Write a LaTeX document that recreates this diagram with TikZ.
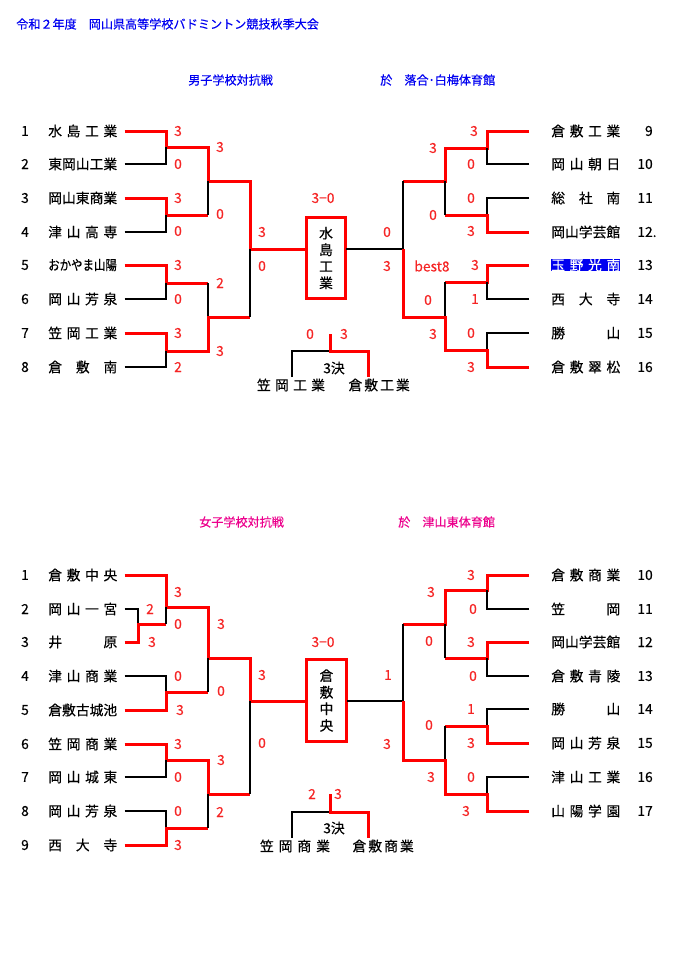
\documentclass[tikz,border=0pt]{standalone}
\usepackage{fontspec}
\setmainfont{Noto Sans CJK JP}[FakeBold=0.35]
\usepackage{graphicx}
\definecolor{headblue}{HTML}{0000F0}
\definecolor{lnred}{HTML}{FF0000}
\definecolor{scred}{HTML}{F52525}
\definecolor{hiblue}{HTML}{0000F0}
\newcommand\tfont{\fontsize{9.8}{11.8}\selectfont}
\newcommand\hfont{\fontsize{8.6}{10}\selectfont}
\newcommand\tm[1]{\makebox[17.25mm][s]{#1}}
\tikzset{
  win/.style={lnred, line width=0.75mm},
  lose/.style={black, line width=0.3mm},
  team/.style={anchor=west, inner sep=0pt, font=\tfont},
  plain/.style={},
  hilite/.style={fill=hiblue, text=white},
  num/.style={inner sep=0pt, font=\tfont},
  score/.style={inner sep=0pt, text=scred, font=\tfont},
  head/.style={anchor=west, inner sep=0pt, font=\hfont},
  champ/.style={draw=lnred, line width=0.75mm, minimum width=9.9mm, minimum height=20.3mm,
    inner sep=0pt, align=center, font=\tfont},
}
\begin{document}
\begin{tikzpicture}[x=0.25mm, y=-0.25mm]
\useasboundingbox (0,0) rectangle (688,971);
\node[head, text=headblue] (title) at (16,24) {令和２年度　岡山県高等学校バドミントン競技秋季大会};
\node[head, text=headblue] (hdM) at (188,80) {男子学校対抗戦};
\node[head, text=headblue] (plM) at (380,80) {於　落合･白梅体育館};
\node[head, text=magenta] (hdW) at (199,522) {女子学校対抗戦};
\node[head, text=magenta] (plW) at (398,522) {於　津山東体育館};

% men
\foreach \y/\nm [count=\i] in {131/水 島 工 業, 164/東岡山工業, 198/岡山東商業, 232/津 山 高 専,
    265/{\scalebox{0.83}[1]{おかやま山陽}}, 299/岡 山 芳 泉, 333/笠 岡 工 業, 367/倉 敷 南}{
  \node[num] (nmL\i) at (25,\y) {\i};
  \node[team] (mL\i) at (48,\y) {\tm{\nm}};
}
\foreach \y/\nm/\nr/\st [count=\i from 9] in {131/倉 敷 工 業/9/plain, 164/岡 山 朝 日/10/plain,
    198/総 社 南/11/plain, 232/岡山学芸館/12\rlap{.}/plain, 265/玉 野 光 南/13/hilite,
    299/西 大 寺/14/plain, 333/勝 山/15/plain, 367/倉 敷 翠 松/16/plain}{
  \node[team,\st] (mR\i) at (551,\y) {\tm{\nm}};
  \node[num, anchor=east] (nmR\i) at (653,\y) {\nr};
}
\node[champ] (cM) at (326,258) {水\\島\\工\\業};
\draw[win] (mL1.east) ++(7,0) -| (166,147) -| (208,181) -| (250,249) -- (306,249);
\draw[lose] (mL2.east) ++(7,0) -| (166,147);
\draw[win] (mL3.east) ++(7,0) -| (166,215) -- (208,215);
\draw[lose] (208,215) -- (208,181);
\draw[lose] (mL4.east) ++(7,0) -| (166,215);
\draw[win] (mL5.east) ++(7,0) -| (166,283) -- (208,283);
\draw[lose] (208,283) -- (208,317);
\draw[lose] (mL6.east) ++(7,0) -| (166,283);
\draw[win] (mL7.east) ++(7,0) -| (166,351) -| (208,317) -- (250,317);
\draw[lose] (250,317) -- (250,249);
\draw[lose] (mL8.east) ++(7,0) -| (166,351);
\draw[lose] (346,249) -- (403,249);
\draw[win] (mR9.west) ++(-22,0) -| (487,148) -| (445,181) -- (403,181);
\draw[lose] (403,181) -- (403,249);
\draw[lose] (mR10.west) ++(-22,0) -| (487,148);
\draw[lose] (mR11.west) ++(-22,0) -| (487,215);
\draw[win] (mR12.west) ++(-22,0) -| (487,215) -- (445,215);
\draw[lose] (445,215) -- (445,181);
\draw[win] (mR13.west) ++(-22,0) -| (487,282) -- (445,282);
\draw[lose] (445,282) -- (445,317);
\draw[lose] (mR14.west) ++(-22,0) -| (487,282);
\draw[lose] (mR15.west) ++(-22,0) -| (487,350);
\draw[win] (mR16.west) ++(-22,0) -| (487,350) -| (445,317) -| (403,249);
\foreach \x/\y/\v [count=\i] in {178/131/3, 178/164/0, 178/198/3, 178/231/0, 178/265/3, 178/299/0,
    178/333/3, 178/367/2, 220/147/3, 220/214/0, 220/283/2, 220/351/3, 262/232/3, 262/266/0,
    387/232/0, 387/266/3, 433/148/3, 433/215/0, 428/300/0, 433/334/3, 474/131/3, 471/164/0,
    471/198/0, 471/231/3, 475/265/3, 475/299/1, 471/333/0, 471/367/3, 310/334/0, 344/334/3}
  \node[score] (sM\i) at (\x,\y) {\v};
\node[score] (fsM) at (323,198) {3−0};
\node[score] (b8) at (432,266) {best8};
\node[num] (k3M) at (334,368) {3決};
\node[team, anchor=center] (m3a) at (291,385) {\makebox[17mm][s]{笠 岡 工 業}};
\node[team, anchor=center] (m3b) at (379,385) {\makebox[15.25mm][s]{倉 敷 工 業}};
\draw[lose] (292,377) |- (330,351);
\draw[win] (330,334) |- (368,351) -- (368,377);

% women
\foreach \y/\nm [count=\i] in {575/倉 敷 中 央, 609/岡 山 一 宮, 642/井 原, 676/津 山 商 業,
    710/倉敷古城池, 744/笠 岡 商 業, 777/岡 山 城 東, 811/岡 山 芳 泉, 845/西 大 寺}{
  \node[num] (nwL\i) at (25,\y) {\i};
  \node[team] (wL\i) at (48,\y) {\tm{\nm}};
}
\foreach \y/\nm [count=\i from 10] in {575/倉 敷 商 業, 609/笠 岡, 642/岡山学芸館, 676/倉 敷 青 陵,
    709/勝 山, 743/岡 山 芳 泉, 777/津 山 工 業, 811/山 陽 学 園}{
  \node[team] (wR\i) at (551,\y) {\tm{\nm}};
  \node[num, anchor=east] (nwR\i) at (653,\y) {\i};
}
\node[champ] (cW) at (326.5,700.5) {倉\\敷\\中\\央};
\draw[win] (wL1.east) ++(7,0) -| (166,607) -| (208,658) -| (250,701) -- (306,701);
\draw[lose] (wL2.east) ++(7,0) -| (138,624);
\draw[win] (wL3.east) ++(7,0) -| (138,624) -- (166,624);
\draw[lose] (166,624) -- (166,607);
\draw[lose] (wL4.east) ++(7,0) -| (166,692);
\draw[win] (wL5.east) ++(7,0) -| (166,692) -- (208,692);
\draw[lose] (208,692) -- (208,658);
\draw[win] (wL6.east) ++(7,0) -| (166,760) -| (208,794) -- (250,794);
\draw[lose] (250,794) -- (250,701);
\draw[lose] (wL7.east) ++(7,0) -| (166,760);
\draw[lose] (wL8.east) ++(7,0) -| (166,828);
\draw[win] (wL9.east) ++(7,0) -| (166,828) -- (208,828);
\draw[lose] (208,828) -- (208,794);
\draw[lose] (347,701) -- (403,701);
\draw[win] (wR10.west) ++(-22,0) -| (487,590) -| (445,624) -- (403,624);
\draw[lose] (403,624) -- (403,701);
\draw[lose] (wR11.west) ++(-22,0) -| (487,590);
\draw[win] (wR12.west) ++(-22,0) -| (487,658) -- (445,658);
\draw[lose] (445,658) -- (445,624);
\draw[lose] (wR13.west) ++(-22,0) -| (487,658);
\draw[lose] (wR14.west) ++(-22,0) -| (487,726);
\draw[win] (wR15.west) ++(-22,0) -| (487,726) -- (445,726);
\draw[lose] (445,726) -- (445,760);
\draw[lose] (wR16.west) ++(-22,0) -| (487,794);
\draw[win] (wR17.west) ++(-22,0) -| (487,794) -| (445,760) -| (403,701);
\foreach \x/\y/\v [count=\i] in {178/592/3, 150/609/2, 152/642/3, 178/624/0, 178/676/0, 180/710/3,
    178/744/3, 178/777/0, 178/811/0, 178/845/3, 221/624/3, 221/691/0, 221/760/3, 220/812/2,
    262/675/3, 262/743/0, 388/675/1, 387/744/3, 431/592/3, 429/641/0, 429/725/0, 431/777/3,
    471/575/3, 473/609/0, 471/642/3, 473/676/0, 471/709/1, 471/743/3, 471/777/0, 466/811/3,
    312/794/2, 338/794/3}
  \node[score] (sW\i) at (\x,\y) {\v};
\node[score] (fsW) at (323,642) {3−0};
\node[num] (k3W) at (334,828) {3決};
\node[team, anchor=center] (w3a) at (295,846) {\makebox[17.5mm][s]{笠 岡 商 業}};
\node[team, anchor=center] (w3b) at (383,846) {\makebox[15.25mm][s]{倉 敷 商 業}};
\draw[lose] (292,838) |- (330,812);
\draw[win] (330,794) |- (368,812) -- (368,838);
\end{tikzpicture}
\end{document}
